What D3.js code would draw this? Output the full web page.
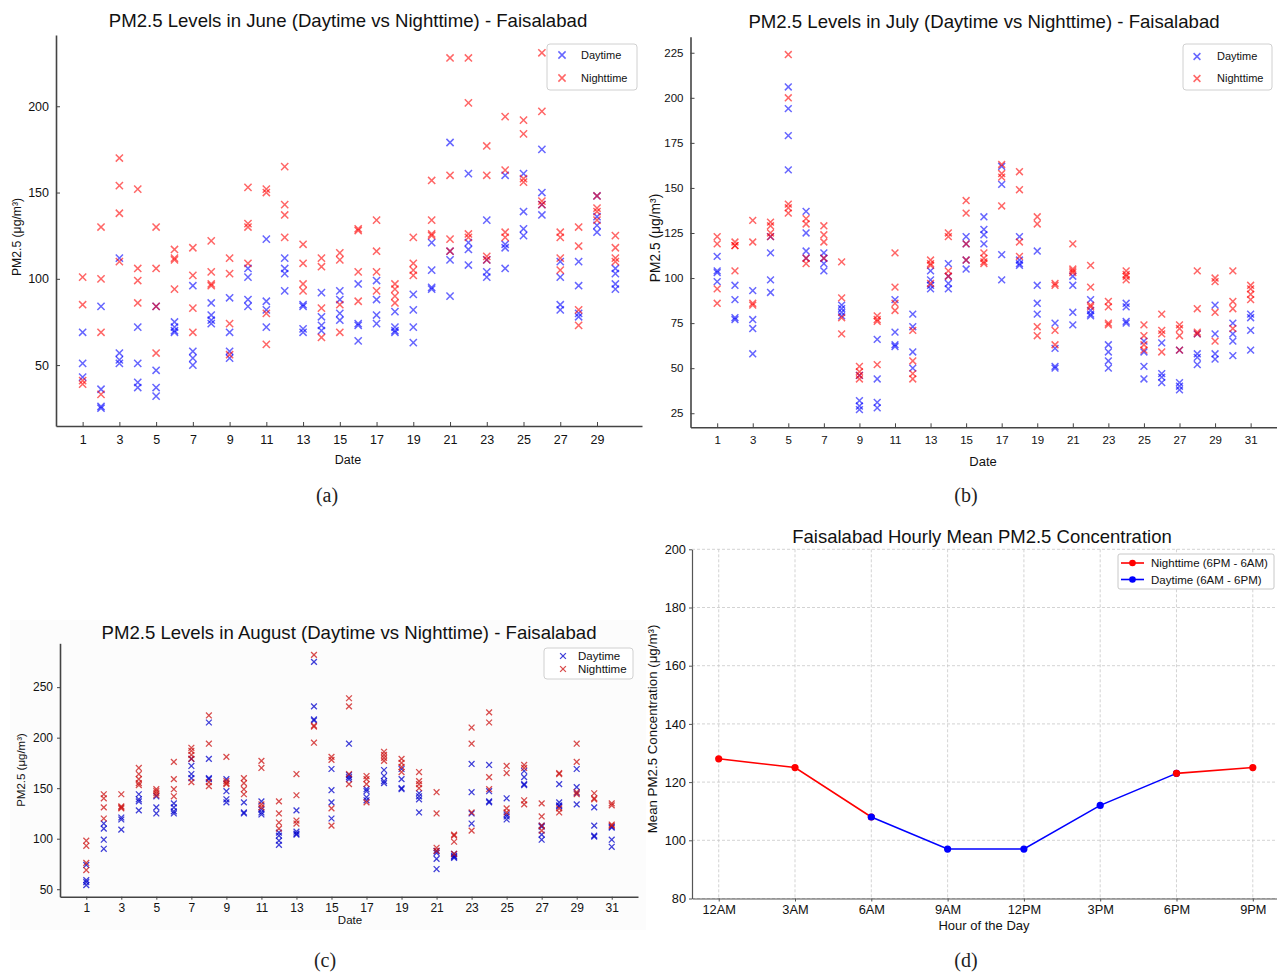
<!DOCTYPE html>
<html>
<head>
<meta charset="utf-8">
<script src="https://cdn.jsdelivr.net/npm/d3@7"></script>
<style>
  html, body { margin: 0; padding: 0; background: #fff; }
  svg { display: block; font-family: "Liberation Sans", Arial, sans-serif; }
</style>
</head>
<body>
<svg id="chart" width="1277" height="972"></svg>
<script>
// ---- June hourly readings per day (µg/m³) ----
const juneDays = d3.range(1, 31);
const juneDaytime = [
  [69,51,43],[84,36,26,25],[112,57,53,51],[72,51,40,37],[84,47,37,32],
  [75,72,70,69],[96,58,54,50],[86,79,76,74],[89,69,58,54],[106,101,88,84],
  [123,87,82,72],[112,106,103,93],[85,84,71,69],[92,78,73,70],[93,88,80,76],
  [97,74,73,64],[99,88,79,74],[81,72,70,69],[91,82,72,63],[121,105,95,94],
  [179,116,111,90],[161,121,117,108],[134,111,104,101],[160,120,118,106],[161,139,129,125],
  [175,150,143,137],[110,101,85,82],[110,96,80,78],[148,136,131,127],[106,103,97,94]
];
const juneNighttime = [
  [101,85,41,39],[130,100,69,33],[170,154,138,110],[152,106,99,86],[130,106,84,57],
  [117,112,111,94],[118,102,83,69],[122,104,97,96],[112,103,74,56],[153,132,130,109],
  [152,150,80,62],[165,143,137,124],[120,109,97,93],[112,107,83,66],[115,111,85,69],
  [129,128,104,87],[134,116,104,93],[97,94,90,86],[124,109,105,102],[157,134,126,125],
  [228,160,123,116],[228,202,126,124],[177,160,113,111],[194,163,127,124],[192,184,158,156],
  [231,197,145,143],[127,124,112,105],[130,119,82,73],[148,141,139,134],[125,118,112,110]
];

// ---- July ----
const julyDays = d3.range(1, 32);
const julyDaytime = [
  [112,104,103,98],[96,88,78,77],[93,77,72,58],[123,114,99,92],[206,194,179,160],
  [137,125,115,111],[114,111,108,104],[85,83,81,79],[46,32,29,27],[66,44,31,28],
  [88,70,63,62],[80,73,59,50],[104,99,96,94],[108,101,97,94],[123,119,110,105],
  [134,127,124,119],[162,152,113,99],[123,110,108,107],[115,96,86,80],[75,61,51,50],
  [101,96,81,74],[88,82,80,79],[63,59,54,50],[86,84,76,75],[65,59,51,44],
  [64,47,45,42],[60,42,40,38],[69,58,56,52],[85,69,58,55],[75,69,65,57],[80,78,71,60]
];
const julyNighttime = [
  [123,119,94,86],[120,118,118,104],[132,120,86,85],[131,129,125,123],[224,200,141,139,136],
  [133,130,111,108],[129,124,120,111],[109,89,78,69],[51,48,46,44],[79,77,76,52],
  [114,95,86,82],[71,54,47,44],[110,108,107,97],[125,123,104,101],[143,136,119,110],
  [114,111,109,108],[163,158,156,140],[159,149,120,112],[134,130,73,68],[97,96,71,63],
  [119,105,104,103],[107,95,85,84],[87,84,75,74],[104,102,101,99],[74,68,63,60],
  [80,71,69,59],[74,72,68,60],[104,83,70,69],[100,98,81,65],[104,87,83,72],[96,94,91,88]
];

// ---- August ----
const augDays = d3.range(1, 32);
const augDaytime = [
  [74,59,57,54],[115,110,99,90],[121,119,109],[144,139,137,128],[142,131,125],
  [135,131,127,125],[179,172,164,160],[215,179,160,159],[159,147,139,136],[136,126,125],
  [137,129,126,124],[106,103,98,94],[128,107,105,104],[275,231,218,217],[169,148,136,120],
  [194,163,161,159],[149,147,141,138],[168,162,157,155],[169,159,150,149],[145,142,139,126],
  [88,86,80,70],[85,83,82,81],[174,146,125,115],[173,147,137,136],[140,124,122,119],
  [167,161,154,153],[113,112,104,99],[154,136,133,132],[169,151,145,134],[131,113,103,102],[112,111,99,92]
];
const augNighttime = [
  [98,93,76,69],[144,140,131,120],[144,132,131,130],[170,164,159,155,153],[149,147,145,143],
  [176,159,149,142],[190,187,183,179,156],[222,194,156,152],[181,157,155,154],[160,155,149,144],
  [177,170,134,131],[137,125,116,110],[164,143,118,115],[282,212,211,195],[181,178,130,113],
  [239,231,164,154],[162,159,154,136],[186,183,180,177],[179,175,171,166],[166,157,154,150],
  [146,125,91,88],[104,103,97,85],[210,194,126,108],[225,215,161,149],[172,165,130,126],
  [173,170,138,134],[135,122,113,108],[165,164,130,126],[194,176,146,144],[145,140,139],[135,133,114,113]
];

// ---- Hourly means ----
const hourLabels = ["12AM","3AM","6AM","9AM","12PM","3PM","6PM","9PM"];
const hours = [0, 3, 6, 9, 12, 15, 18, 21];
const hourlyMean = [128, 125, 108, 97, 97, 112, 123, 125];
const nightRuns = [[0, 3, 6], [18, 21]];
const dayRun = [6, 9, 12, 15, 18];

const juneYTicks = [50, 100, 150, 200];
const julyYTicks = [25, 50, 75, 100, 125, 150, 175, 200, 225];
const augYTicks = [50, 100, 150, 200, 250];
const hourlyYTicks = [80, 100, 120, 140, 160, 180, 200];
const oddDays30 = d3.range(1, 30, 2);
const oddDays31 = d3.range(1, 32, 2);

const svg = d3.select("#chart");

function xMarker(r) {
  return `M${-r},${-r}L${r},${r}M${-r},${r}L${r},${-r}`;
}

function scatterPanel(cfg) {
  const g = svg.append("g");
  if (cfg.bg) {
    g.append("rect").attr("x", cfg.bg[0]).attr("y", cfg.bg[1])
      .attr("width", cfg.bg[2]).attr("height", cfg.bg[3]).attr("fill", "#fcfcfc");
  }
  const x = d3.scaleLinear().domain(cfg.xDomain).range([cfg.left, cfg.right]);
  const y = d3.scaleLinear().domain(cfg.yDomain).range([cfg.bottom, cfg.top]);

  const xAxis = d3.axisBottom(x).tickValues(cfg.xTicks).tickFormat(d3.format("d"))
    .tickSizeInner(cfg.tickIn ? -4 : 3).tickSizeOuter(0).tickPadding(cfg.tickIn ? 9 : 4);
  const yAxis = d3.axisLeft(y).tickValues(cfg.yTicks).tickFormat(d3.format("d"))
    .tickSizeInner(cfg.tickIn ? -4 : 3).tickSizeOuter(0).tickPadding(cfg.tickIn ? 7 : 4);

  const gx = g.append("g").attr("transform", `translate(0,${cfg.bottom})`).call(xAxis);
  const gy = g.append("g").attr("transform", `translate(${cfg.left},0)`).call(yAxis);
  [gx, gy].forEach(a => {
    a.select(".domain").attr("stroke", "#444").attr("stroke-width", 1.6);
    a.selectAll(".tick line").attr("stroke", "#444").attr("stroke-width", 1);
    a.selectAll(".tick text").attr("fill", "#111").attr("font-size", cfg.tickFont)
      .attr("font-family", "Liberation Sans, Arial, sans-serif");
  });

  const plot = g.append("g");
  const series = [
    { vals: cfg.day, color: cfg.blue },
    { vals: cfg.night, color: cfg.red }
  ];
  series.forEach(s => {
    const pts = [];
    s.vals.forEach((arr, i) => arr.forEach(v => pts.push([cfg.days[i], v])));
    plot.selectAll(null).data(pts).enter().append("path")
      .attr("d", xMarker(cfg.mr))
      .attr("transform", d => `translate(${x(d[0])},${y(d[1])})`)
      .attr("fill", "none").attr("stroke", s.color)
      .attr("stroke-opacity", cfg.alpha).attr("stroke-width", cfg.mw);
  });

  g.append("text").attr("x", cfg.titleX).attr("y", cfg.titleY)
    .attr("text-anchor", "middle").attr("font-size", cfg.titleFont).attr("fill", "#111")
    .text(cfg.title);
  g.append("text").attr("transform", `translate(${cfg.ylabX},${cfg.ylabY}) rotate(-90)`)
    .attr("text-anchor", "middle").attr("font-size", cfg.ylabFont).attr("fill", "#111")
    .text("PM2.5 (μg/m³)");
  g.append("text").attr("x", cfg.xlabX).attr("y", cfg.xlabY)
    .attr("text-anchor", "middle").attr("font-size", cfg.xlabFont).attr("fill", "#111")
    .text("Date");

  // legend
  const L = cfg.legend;
  const lg = g.append("g");
  lg.append("rect").attr("x", L.x).attr("y", L.y).attr("width", L.w).attr("height", L.h)
    .attr("rx", 3).attr("fill", "#fff").attr("fill-opacity", 0.85)
    .attr("stroke", "#d0d0d0").attr("stroke-width", 1);
  [["Daytime", cfg.blue], ["Nighttime", cfg.red]].forEach((e, i) => {
    const yy = L.y + L.first + i * L.step;
    lg.append("path").attr("d", xMarker(cfg.mr))
      .attr("transform", `translate(${L.x + L.mx},${yy})`)
      .attr("fill", "none").attr("stroke", e[1]).attr("stroke-opacity", cfg.alpha)
      .attr("stroke-width", cfg.mw);
    lg.append("text").attr("x", L.x + L.tx).attr("y", yy).attr("dy", "0.35em")
      .attr("font-size", L.font).attr("fill", "#111").text(e[0]);
  });
}

// (a) June
scatterPanel({
  left: 56, right: 642, top: 35, bottom: 426,
  xDomain: [-0.45, 31.45], yDomain: [14.7, 241.3],
  xTicks: oddDays30, yTicks: juneYTicks, tickIn: true, tickFont: 12.5,
  days: juneDays, day: juneDaytime, night: juneNighttime,
  blue: "#0000ff", red: "#ff0000", alpha: 0.6, mr: 3.6, mw: 1.5,
  title: "PM2.5 Levels in June (Daytime vs Nighttime) - Faisalabad",
  titleX: 348, titleY: 27, titleFont: 18.6,
  ylabX: 21, ylabY: 237, ylabFont: 12.2,
  xlabX: 348, xlabY: 464, xlabFont: 12.5,
  legend: { x: 547, y: 44, w: 90, h: 46, first: 11, step: 23, mx: 15, tx: 34, font: 11 }
});

// (b) July
scatterPanel({
  left: 690.5, right: 1277.3, top: 36.7, bottom: 427.3,
  xDomain: [-0.5, 32.5], yDomain: [17.2, 233.9],
  xTicks: oddDays31, yTicks: julyYTicks, tickIn: true, tickFont: 11.5,
  days: julyDays, day: julyDaytime, night: julyNighttime,
  blue: "#0000ff", red: "#ff0000", alpha: 0.6, mr: 3.4, mw: 1.5,
  title: "PM2.5 Levels in July (Daytime vs Nighttime) - Faisalabad",
  titleX: 984, titleY: 28, titleFont: 18.6,
  ylabX: 660, ylabY: 238, ylabFont: 13.8,
  xlabX: 983, xlabY: 466, xlabFont: 13,
  legend: { x: 1183, y: 44, w: 89, h: 46, first: 12.5, step: 22, mx: 14, tx: 34, font: 11 }
});

// (c) August
scatterPanel({
  bg: [10, 620, 636, 310],
  left: 60, right: 638, top: 643.3, bottom: 896.7,
  xDomain: [-0.5, 32.5], yDomain: [42.6, 293.4],
  xTicks: oddDays31, yTicks: augYTicks, tickIn: false, tickFont: 12,
  days: augDays, day: augDaytime, night: augNighttime,
  blue: "#0000cc", red: "#cc1111", alpha: 0.75, mr: 2.9, mw: 1.3,
  title: "PM2.5 Levels in August (Daytime vs Nighttime) - Faisalabad",
  titleX: 349, titleY: 639, titleFont: 18.6,
  ylabX: 25, ylabY: 770, ylabFont: 11.5,
  xlabX: 350, xlabY: 924, xlabFont: 11.5,
  legend: { x: 544, y: 648, w: 89, h: 31, first: 8, step: 13, mx: 19, tx: 34, font: 11.5 }
});

// (d) Hourly mean
(function () {
  const g = svg.append("g");
  const left = 692, right = 1279.5, top = 549.3, bottom = 898.5;
  const x = d3.scaleLinear().domain([-1.05, 22.05]).range([left, right]);
  const y = d3.scaleLinear().domain([80, 200]).range([bottom, top]);
  const byHour = new Map(hours.map((h, i) => [h, hourlyMean[i]]));

  // grid
  g.append("g").selectAll("line").data(hours).enter().append("line")
    .attr("x1", d => x(d)).attr("x2", d => x(d)).attr("y1", top).attr("y2", bottom)
    .attr("stroke", "#c8c8c8").attr("stroke-width", 0.8).attr("stroke-dasharray", "3,2");
  g.append("g").selectAll("line").data(hourlyYTicks).enter().append("line")
    .attr("x1", left).attr("x2", right).attr("y1", d => y(d)).attr("y2", d => y(d))
    .attr("stroke", "#c8c8c8").attr("stroke-width", 0.8).attr("stroke-dasharray", "3,2");

  const xAxis = d3.axisBottom(x).tickValues(hours).tickFormat((d, i) => hourLabels[i])
    .tickSizeInner(3).tickSizeOuter(0).tickPadding(3);
  const yAxis = d3.axisLeft(y).tickValues(hourlyYTicks).tickSizeInner(3).tickSizeOuter(0).tickPadding(3);
  const gx = g.append("g").attr("transform", `translate(0,${bottom})`).call(xAxis);
  const gy = g.append("g").attr("transform", `translate(${left},0)`).call(yAxis);
  [gx, gy].forEach(a => {
    a.select(".domain").attr("stroke", "#555").attr("stroke-width", 1.2);
    a.selectAll(".tick line").attr("stroke", "#555");
    a.selectAll(".tick text").attr("fill", "#111").attr("font-size", 12.8)
      .attr("font-family", "Liberation Sans, Arial, sans-serif");
  });

  const line = d3.line().x(d => x(d)).y(d => y(byHour.get(d)));
  function run(hs, color) {
    g.append("path").datum(hs).attr("d", line).attr("fill", "none")
      .attr("stroke", color).attr("stroke-width", 1.6);
    g.selectAll(null).data(hs).enter().append("circle")
      .attr("cx", d => x(d)).attr("cy", d => y(byHour.get(d))).attr("r", 3.6)
      .attr("fill", color);
  }
  run(nightRuns[0], "#ff0000");
  run(dayRun, "#0000ff");
  run(nightRuns[1], "#ff0000");

  g.append("text").attr("x", 982).attr("y", 543).attr("text-anchor", "middle")
    .attr("font-size", 18.5).attr("fill", "#111").text("Faisalabad Hourly Mean PM2.5 Concentration");
  g.append("text").attr("transform", "translate(657,729) rotate(-90)").attr("text-anchor", "middle")
    .attr("font-size", 13.3).attr("fill", "#111").text("Mean PM2.5 Concentration (μg/m³)");
  g.append("text").attr("x", 984).attr("y", 930).attr("text-anchor", "middle")
    .attr("font-size", 13).attr("fill", "#111").text("Hour of the Day");

  const lg = g.append("g");
  lg.append("rect").attr("x", 1118).attr("y", 554).attr("width", 156).attr("height", 35)
    .attr("rx", 2).attr("fill", "#fff").attr("stroke", "#c8c8c8");
  [["Nighttime (6PM - 6AM)", "#ff0000"], ["Daytime (6AM - 6PM)", "#0000ff"]].forEach((e, i) => {
    const yy = 563 + i * 16.5;
    lg.append("line").attr("x1", 1121).attr("x2", 1144).attr("y1", yy).attr("y2", yy)
      .attr("stroke", e[1]).attr("stroke-width", 1.6);
    lg.append("circle").attr("cx", 1132.5).attr("cy", yy).attr("r", 3.3).attr("fill", e[1]);
    lg.append("text").attr("x", 1151).attr("y", yy).attr("dy", "0.35em")
      .attr("font-size", 11.5).attr("fill", "#111").text(e[0]);
  });
})();

// panel captions
const captions = [["(a)", 327, 495], ["(b)", 966, 495], ["(c)", 325, 960], ["(d)", 966, 960]];
svg.selectAll("text.caption").data(captions).enter().append("text")
  .attr("class", "caption")
  .attr("x", d => d[1]).attr("y", d => d[2]).attr("dy", "0.35em")
  .attr("text-anchor", "middle").attr("font-family", "Liberation Serif, serif")
  .attr("font-size", 20).attr("fill", "#222").text(d => d[0]);
</script>
</body>
</html>
